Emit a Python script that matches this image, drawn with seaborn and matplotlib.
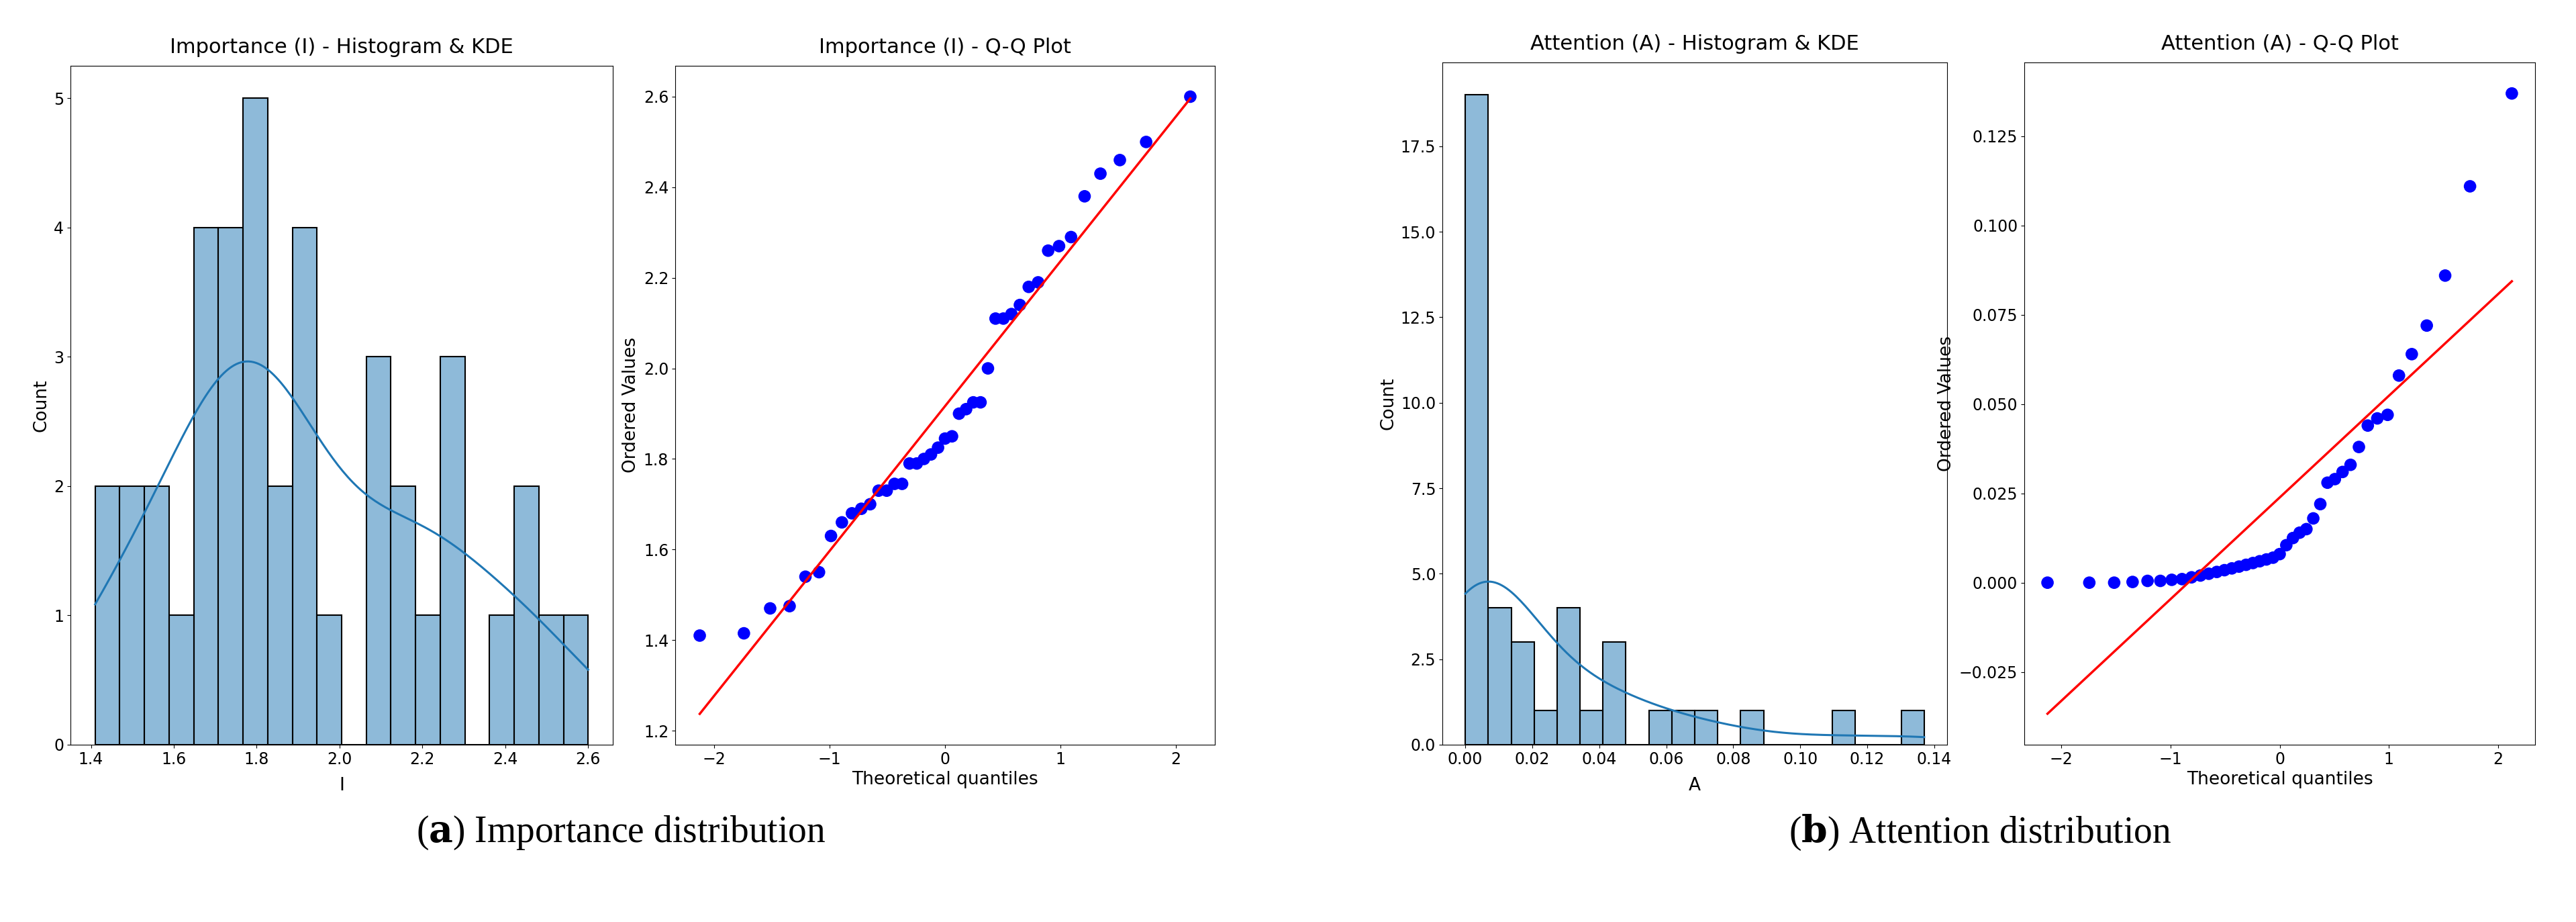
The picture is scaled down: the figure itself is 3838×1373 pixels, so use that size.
import numpy as np
import pandas as pd
import matplotlib
matplotlib.use("Agg")
import matplotlib.pyplot as plt
import seaborn as sns
from statistics import NormalDist

importance_values = [1.41, 1.415, 1.47, 1.475, 1.54, 1.55, 1.63, 1.66, 1.68, 1.69,
                     1.70, 1.73, 1.73, 1.745, 1.745, 1.79, 1.79, 1.80, 1.81, 1.825,
                     1.845, 1.85, 1.90, 1.91, 1.925, 1.925, 2.00, 2.11, 2.11, 2.12, 2.14,
                     2.18, 2.19, 2.26, 2.27, 2.29, 2.38, 2.43, 2.46, 2.50, 2.60]
attention_values = [0.0, 0.0, 0.0, 0.0002, 0.0005, 0.0005, 0.0008, 0.001, 0.0015, 0.002,
                    0.0025, 0.003, 0.0035, 0.004, 0.0045, 0.005, 0.0055, 0.006, 0.0065,
                    0.007, 0.008, 0.0105, 0.0125, 0.014, 0.015, 0.018, 0.022, 0.028,
                    0.029, 0.031, 0.033, 0.038, 0.044, 0.046, 0.047, 0.058, 0.064,
                    0.072, 0.086, 0.111, 0.137]
titles = ["Importance (I) - Histogram & KDE", "Importance (I) - Q-Q Plot",
          "Attention (A) - Histogram & KDE", "Attention (A) - Q-Q Plot"]
xlabels = ["I", "A"]
captions = [("a", "Importance distribution"), ("b", "Attention distribution")]

try:
    from matplotlib import font_manager
    names = {f.name for f in font_manager.fontManager.ttflist}
    FONT = "Liberation Sans Narrow" if "Liberation Sans Narrow" in names else "DejaVu Sans"
except Exception:
    FONT = "DejaVu Sans"
plt.rcParams["font.family"] = FONT

W, H = 3838, 1373
fig = plt.figure(figsize=(W / 100, H / 100), dpi=100)

def ax_at(l, r, t, b):
    return fig.add_axes([l / W, 1 - b / H, (r - l) / W, (b - t) / H])

def qq(values):
    v = np.sort(np.asarray(values))
    n = len(v)
    i = np.arange(1, n + 1)
    m = (i - 0.3175) / (n + 0.365)
    m[0] = 1 - 0.5 ** (1 / n)
    m[-1] = 0.5 ** (1 / n)
    nd = NormalDist()
    z = np.array([nd.inv_cdf(p) for p in m])
    slope, intercept = np.polyfit(z, v, 1)
    return z, v, slope, intercept

TS, LS, TK = 22, 19, 17
panels = [
    (importance_values, "I", (105, 913, 98, 1109), (1006, 1810, 98, 1109)),
    (attention_values, "A", (2149, 2901, 93, 1109), (3016, 3777, 93, 1109)),
]
for k, (vals, lab, hpos, qpos) in enumerate(panels):
    ax = ax_at(*hpos)
    df = pd.DataFrame({lab: vals})
    sns.histplot(data=df, x=lab, bins=20, kde=True, ax=ax, color="#1f77b4",
                 edgecolor="black", linewidth=1.5, alpha=0.5)
    ax.set_title(titles[2 * k], fontsize=TS, pad=14)
    ax.set_xlabel(lab, fontsize=LS, labelpad=10)
    ax.set_ylabel("Count", fontsize=LS)
    ax.tick_params(labelsize=TK)
    if k == 0:
        ax.set_xticks([1.4, 1.6, 1.8, 2.0, 2.2, 2.4, 2.6])
    else:
        ax.set_xticks(np.round(np.arange(0, 0.141, 0.02), 2))
    for line in ax.lines:
        line.set_linewidth(2.2)

    ax2 = ax_at(*qpos)
    z, v, s, b = qq(vals)
    sns.scatterplot(x=z, y=v, ax=ax2, color="blue", s=180, edgecolor="none")
    sns.lineplot(x=z, y=s * z + b, ax=ax2, color="red", linewidth=2.5)
    ax2.set_title(titles[2 * k + 1], fontsize=TS, pad=14)
    ax2.set_xlabel("Theoretical quantiles", fontsize=LS)
    ax2.set_ylabel("Ordered Values", fontsize=LS)
    ax2.tick_params(labelsize=TK)

for (letter, text), cx in zip(captions, [925, 2950]):
    fig.text(cx / W, 1 - 1240 / H, f"(${{\\bf {letter}}}$) {text}",
             ha="center", va="center", fontsize=40, family="Liberation Serif",
             math_fontfamily="dejavuserif")

fig.savefig("out.png", dpi=100)
